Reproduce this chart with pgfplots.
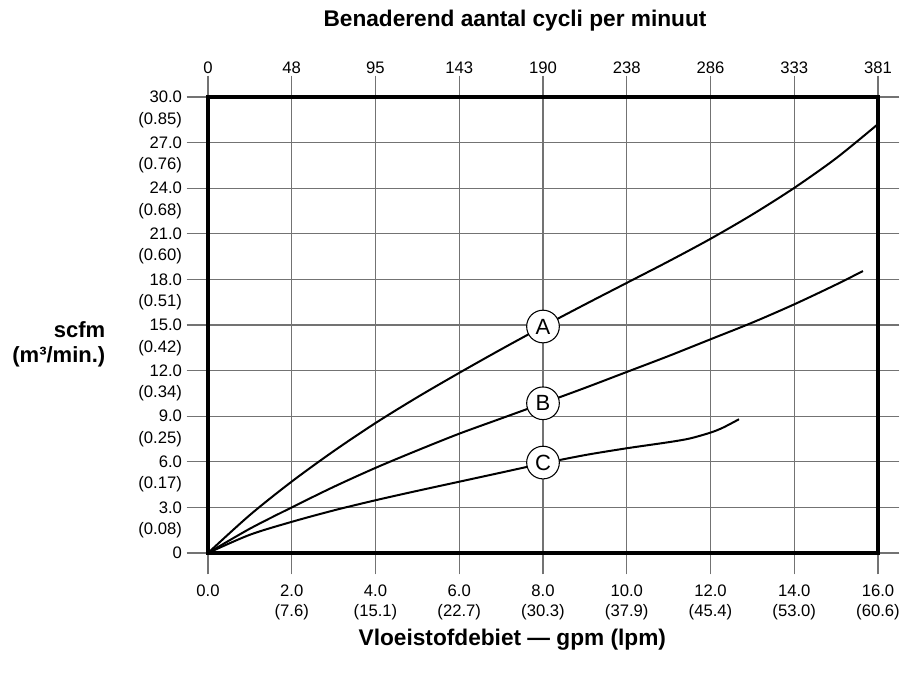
\documentclass[border=0pt]{standalone}
\usepackage{fontspec}
\setmainfont{Liberation Sans}
\usepackage{pgfplots}
\pgfplotsset{compat=1.18}
\usetikzlibrary{calc}

\begin{document}
\begin{tikzpicture}
% shared geometry: 1px of the reference = 0.75pt
\pgfplotsset{
  chartbase/.style={
    width=502.5pt, height=342pt, scale only axis,
    xmin=0, xmax=16, ymin=0, ymax=30,
    xtick={0,2,...,16},
    tick align=outside,
    major tick length=16pt,
    tick label style={font=\fontsize{12.5}{15.5}\selectfont},
    /pgf/number format/assume math mode=true,
  }
}
\begin{axis}[
    chartbase,
    clip=false,
    axis line style={line width=3pt},
    tick style={black!55, line width=0.9pt},
    grid=major,
    major grid style={black!55, line width=0.9pt},
    xticklabels={0.0, {2.0\\(7.6)}, {4.0\\(15.1)}, {6.0\\(22.7)}, {8.0\\(30.3)},
                 {10.0\\(37.9)}, {12.0\\(45.4)}, {14.0\\(53.0)}, {16.0\\(60.6)}},
    xticklabel style={align=center, anchor=north, yshift=-4pt},
    ytick={0,3,...,30},
    yticklabels={0,3.0,6.0,9.0,12.0,15.0,18.0,21.0,24.0,27.0,30.0},
    extra y ticks={1.5,4.5,...,28.5},
    extra y tick labels={(0.08),(0.17),(0.25),(0.34),(0.42),(0.51),(0.60),(0.68),(0.76),(0.85)},
    extra y tick style={grid=none, major tick style={draw=none}},
]
\coordinate (sw) at (rel axis cs:0,0);
\coordinate (ne) at (rel axis cs:1,1);

% A
\addplot[black, line width=1.5pt, smooth] coordinates {
  (0,0) (1,2.5) (2,4.7) (3,6.7) (4,8.55) (5,10.25) (6,11.85) (7,13.4) (8,14.9)
  (9,16.35) (10,17.77) (11,19.19) (12,20.67) (13,22.27) (14,24.02) (15,25.97) (15.97,28.15)
};
% B
\addplot[black, line width=1.5pt, smooth] coordinates {
  (0,0) (1,1.6) (2,3.0) (3,4.35) (4,5.6) (5,6.75) (6,7.85) (7,8.85) (8,9.85)
  (9,10.86) (10,11.91) (11,12.96) (12,14.06) (13,15.16) (14,16.36) (15,17.66) (15.64,18.55)
};
% C
\addplot[black, line width=1.5pt, smooth] coordinates {
  (0,0) (1,1.2) (2,2.05) (3,2.8) (4,3.47) (5,4.09) (6,4.69) (7,5.29) (8,5.89)
  (9,6.44) (10,6.89) (11,7.29) (11.5,7.53) (12,7.92) (12.3,8.25) (12.68,8.8)
};

\foreach \lbl/\yy in {A/14.9, B/9.85, C/5.95} {
  \edef\temp{\noexpand\node[circle, draw=black, line width=0.8pt, fill=white,
    minimum size=24.5pt, inner sep=0pt, font=\noexpand\fontsize{16.5}{18}\noexpand\selectfont]
    at (axis cs:8,\yy) {\lbl};}
  \temp
}

\node[anchor=east, align=right, font=\bfseries\fontsize{16.5}{19}\selectfont]
  at ($(rel axis cs:0,0.458)+(-73.5pt,0)$) {scfm\\(m³/min.)};
\node[font=\bfseries\fontsize{17}{19}\selectfont]
  at ($(rel axis cs:0.5,0)+(-23pt,-65pt)$) {Vloeistofdebiet — gpm (lpm)};
\node[font=\bfseries\fontsize{17}{19}\selectfont]
  at ($(rel axis cs:0.5,1)+(-21pt,57pt)$) {Benaderend aantal cycli per minuut};
\end{axis}

% top scale: cycles per minute
\begin{axis}[
    chartbase,
    axis x line*=top,
    axis y line=none,
    axis line style={draw=none},
    tick style={draw=none},
    xticklabel style={yshift=-2pt},
    xticklabels={0,48,95,143,190,238,286,333,381},
]
\end{axis}

\pgfresetboundingbox
\path[use as bounding box] ($(sw)+(-156pt,-90.75pt)$) rectangle ($(ne)+(29.25pt,72.75pt)$);
\end{tikzpicture}
\end{document}
